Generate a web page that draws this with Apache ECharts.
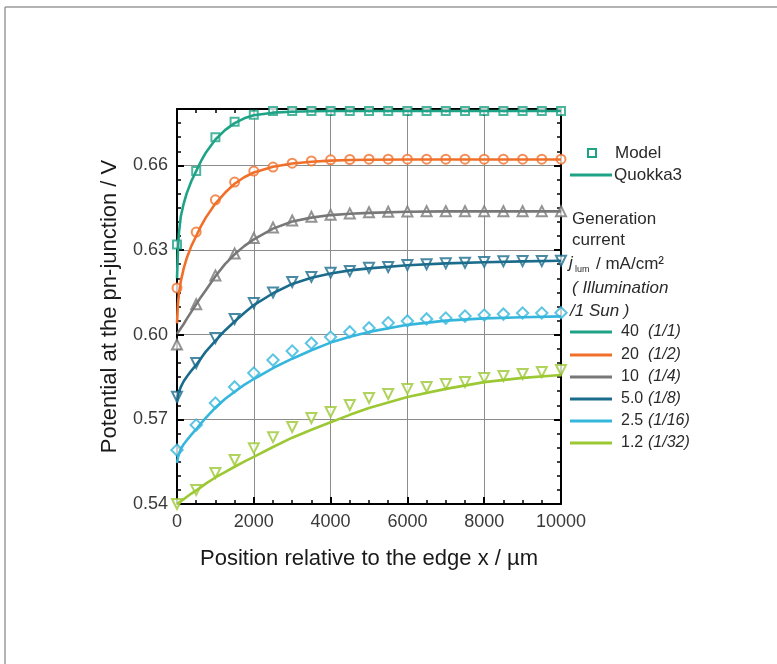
<!DOCTYPE html>
<html>
<head>
<meta charset="utf-8">
<script src="https://cdn.jsdelivr.net/npm/echarts@6/dist/echarts.min.js"></script>
<style>html,body{margin:0;padding:0;background:#fff;}#c{width:777px;height:664px;}</style>
</head>
<body>
<div id="c"></div>
<script>
// ---------- data ----------
const xModel = [0,500,1000,1500,2000,2500,3000,3500,4000,4500,5000,5500,6000,6500,7000,7500,8000,8500,9000,9500,10000];
const model40 = [0.632,0.658,0.670,0.6755,0.678,0.6793,0.6793,0.6793,0.6793,0.6793,0.6793,0.6793,0.6793,0.6793,0.6793,0.6793,0.6793,0.6793,0.6793,0.6793,0.6793];
const model20 = [0.6166,0.6364,0.6478,0.6541,0.658,0.6594,0.6608,0.6616,0.662,0.6621,0.6622,0.6622,0.6622,0.6622,0.6622,0.6622,0.6622,0.6622,0.6622,0.6622,0.6622];
const model10 = [0.5965,0.6108,0.621,0.6288,0.6343,0.638,0.6405,0.6418,0.6425,0.643,0.6434,0.6436,0.6437,0.6438,0.6438,0.6438,0.6438,0.6438,0.6438,0.6438,0.6438];
const model5 = [0.578,0.590,0.5988,0.6056,0.6112,0.615,0.6187,0.6205,0.622,0.6226,0.6237,0.624,0.6247,0.625,0.6253,0.6255,0.6258,0.626,0.6261,0.6261,0.6262];
const model2_5 = [0.5591,0.568,0.5758,0.5815,0.5864,0.591,0.5942,0.597,0.5992,0.601,0.6024,0.6042,0.6049,0.6056,0.6059,0.6066,0.607,0.6073,0.6077,0.6077,0.6078];
const model1_2 = [0.540,0.545,0.551,0.5556,0.5598,0.5637,0.5673,0.5705,0.5726,0.5751,0.5776,0.579,0.5808,0.5815,0.5825,0.5832,0.5847,0.5854,0.5861,0.5868,0.5875];

const xLine = [0,25,50,100,175,250,375,500,625,750,1000,1250,1500,1750,2000,2500,3000,3500,4000,4500,5000,6000,7000,8000,9000,10000];
const line40 = [0.620,0.630,0.636,0.642,0.6465,0.650,0.6545,0.658,0.6615,0.6645,0.6692,0.6725,0.675,0.6767,0.6778,0.6787,0.679,0.6792,0.6793,0.6793,0.6793,0.6793,0.6793,0.6793,0.6793,0.6793];
const line20 = [0.604,0.611,0.6145,0.619,0.6235,0.627,0.6315,0.635,0.6385,0.6415,0.6465,0.6503,0.6535,0.6558,0.6575,0.6595,0.6607,0.6613,0.6617,0.6619,0.662,0.6621,0.6621,0.6621,0.6621,0.6621];
const line10 = [0.6003,0.6008,0.6013,0.6023,0.6038,0.6055,0.6082,0.6108,0.6134,0.6158,0.6207,0.625,0.6285,0.6314,0.6338,0.6376,0.6401,0.6415,0.6424,0.6429,0.6432,0.6436,0.6437,0.6437,0.6437,0.6437];
const line5 = [0.576,0.5785,0.5798,0.5815,0.5835,0.585,0.5873,0.5893,0.5917,0.594,0.5978,0.6015,0.6047,0.6077,0.6105,0.6147,0.618,0.6202,0.6217,0.6228,0.6235,0.6246,0.6253,0.6257,0.626,0.6262];
const line2_5 = [0.5545,0.5565,0.5577,0.5595,0.5612,0.5625,0.5646,0.5665,0.5686,0.5705,0.5742,0.5772,0.5798,0.5822,0.5843,0.5882,0.5915,0.5945,0.5972,0.5993,0.601,0.6035,0.605,0.6058,0.6062,0.6065];
const line1_2 = [0.540,0.5402,0.5405,0.541,0.5417,0.5425,0.5437,0.5448,0.546,0.5472,0.5494,0.5513,0.5532,0.555,0.5567,0.5602,0.5635,0.5663,0.569,0.5716,0.574,0.5779,0.5808,0.5832,0.5847,0.5857];

const currents = ['40','20','10','5.0','2.5','1.2'];
const ratios = ['(1/1)','(1/2)','(1/4)','(1/8)','(1/16)','(1/32)'];
const colors = ['#1fa386','#f0702a','#787878','#1b6c8c','#35b6dc','#9cc834'];
const yTicks = [0.54,0.57,0.60,0.63,0.66];
const xTicks = [0,2000,4000,6000,8000,10000];
const legendHeader = ['Model','Quokka3'];
const legendText = ['Generation','current','( Illumination','/1 Sun )'];
const xName = 'Position relative to the edge x / µm';
const yName = 'Potential at the pn-junction / V';

// ---------- build ----------
const modelSets = [model40,model20,model10,model5,model2_5,model1_2];
const lineSets = [line40,line20,line10,line5,line2_5,line1_2];
const symbols = ['emptyRect','emptyCircle','emptyTriangle','emptyTriangle','emptyRect','emptyTriangle'];
const symRot = [0,0,0,180,45,180];
const symSize = [8,9,10,10,8,10];
const FONT = 'Liberation Sans, Arial, sans-serif';

const series = [];
modelSets.forEach((m,i)=>{
  series.push({
    type:'scatter', xAxisIndex:0, yAxisIndex:0,
    data: xModel.map((x,k)=>[x,m[k]]),
    symbol: symbols[i], symbolRotate: symRot[i], symbolSize: symSize[i],
    itemStyle:{color:colors[i], borderColor:colors[i], borderWidth:1.6},
    z:3, clip:true, silent:true
  });
});
lineSets.forEach((l,i)=>{
  series.push({
    type:'line', xAxisIndex:0, yAxisIndex:0,
    data: xLine.map((x,k)=>[x,l[k]]),
    showSymbol:false, smooth:false,
    lineStyle:{color:colors[i], width:2.6, join:'round'},
    z:4, clip:true, silent:true
  });
});

function isMajorY(v){ return yTicks.some(t=>Math.abs(t-v)<1e-6); }

const gridBase = {left:177, top:109, width:384, height:395};
const xMinor = {min:0,max:10000,interval:500};
const yMinor = {min:0.54,max:0.68,interval:0.005};

const xAxes = [
  {type:'value', position:'bottom', min:0, max:10000, interval:2000,
   axisLine:{show:true, onZero:false, lineStyle:{color:'#000', width:2}},
   axisTick:{show:true, inside:true, length:7, lineStyle:{color:'#000', width:2}},
   axisLabel:{show:true, color:'#3a3a3a', fontSize:18, fontFamily:FONT, margin:9,
     formatter:v=> xTicks.includes(v) ? String(v) : ''},
   splitLine:{show:true, lineStyle:{color:'#8c8c8c', width:1}},
   name:xName, nameLocation:'middle', nameGap:44,
   nameTextStyle:{color:'#1a1a1a', fontSize:22, fontFamily:FONT}},
  Object.assign({type:'value', position:'bottom', axisLine:{show:false, onZero:false},
   axisTick:{show:true, inside:true, length:4, lineStyle:{color:'#000', width:1.5}},
   axisLabel:{show:false}, splitLine:{show:false}}, xMinor),
  {type:'value', position:'top', min:0, max:10000, interval:2000,
   axisLine:{show:true, onZero:false, lineStyle:{color:'#000', width:2}},
   axisTick:{show:true, inside:true, length:7, lineStyle:{color:'#000', width:2}},
   axisLabel:{show:false}, splitLine:{show:false}},
  Object.assign({type:'value', position:'top', axisLine:{show:false, onZero:false},
   axisTick:{show:true, inside:true, length:4, lineStyle:{color:'#000', width:1.5}},
   axisLabel:{show:false}, splitLine:{show:false}}, xMinor)
];
const yAxes = [
  {type:'value', position:'left', min:0.54, max:0.68, interval:0.03,
   axisLine:{show:true, onZero:false, lineStyle:{color:'#000', width:2}},
   axisTick:{show:true, inside:true, length:7, lineStyle:{color:'#000', width:2}},
   axisLabel:{show:true, color:'#3a3a3a', fontSize:18, fontFamily:FONT, margin:9,
     formatter:v=> isMajorY(v) ? v.toFixed(2) : ''},
   splitLine:{show:true, lineStyle:{color:'#8c8c8c', width:1}},
   name:yName, nameLocation:'middle', nameGap:56,
   nameTextStyle:{color:'#1a1a1a', fontSize:22, fontFamily:FONT}},
  Object.assign({type:'value', position:'left', axisLine:{show:false, onZero:false},
   axisTick:{show:true, inside:true, length:4, lineStyle:{color:'#000', width:1.5}},
   axisLabel:{show:false}, splitLine:{show:false}}, yMinor),
  {type:'value', position:'right', min:0.54, max:0.68, interval:0.03,
   axisLine:{show:true, onZero:false, lineStyle:{color:'#000', width:2}},
   axisTick:{show:true, inside:true, length:7, lineStyle:{color:'#000', width:2}},
   axisLabel:{show:false}, splitLine:{show:false}},
  Object.assign({type:'value', position:'right', axisLine:{show:false, onZero:false},
   axisTick:{show:true, inside:true, length:4, lineStyle:{color:'#000', width:1.5}},
   axisLabel:{show:false}, splitLine:{show:false}}, yMinor)
];

// legend graphics
const g = [];
g.push({type:'line', shape:{x1:5,y1:7,x2:777,y2:7}, style:{stroke:'#9a9a9a', lineWidth:1.5}});
g.push({type:'line', shape:{x1:5,y1:7,x2:5,y2:664}, style:{stroke:'#9a9a9a', lineWidth:1.5}});
const tStyle = (txt,x,y,extra)=>Object.assign({type:'text', x:x, y:y,
  style:Object.assign({text:txt, fill:'#2a2a2a', font:'17px '+FONT, textVerticalAlign:'middle'}, extra||{})});
g.push({type:'rect', shape:{x:588,y:149,width:8,height:8}, style:{fill:'none', stroke:colors[0], lineWidth:2}});
g.push(tStyle(legendHeader[0],615,153));
g.push({type:'line', shape:{x1:570,y1:175,x2:612,y2:175}, style:{stroke:colors[0], lineWidth:3}});
g.push(tStyle(legendHeader[1],614,175));
g.push(tStyle(legendText[0],572,219));
g.push(tStyle(legendText[1],572,240));
g.push(tStyle('j',569,263,{font:'italic 17px '+FONT}));
g.push(tStyle('lum',575,270,{font:'9px '+FONT}));
g.push(tStyle('/ mA/cm²',596,264));
g.push(tStyle(legendText[2],572,288,{font:'italic 17px '+FONT}));
g.push(tStyle(legendText[3],570,311,{font:'italic 17px '+FONT}));
const entryY = [332,355,377,399,421,443];
currents.forEach((c,i)=>{
  g.push({type:'line', shape:{x1:570,y1:entryY[i],x2:612,y2:entryY[i]}, style:{stroke:colors[i], lineWidth:3}});
  g.push(tStyle(c,621,entryY[i],{font:'16px '+FONT}));
  g.push(tStyle(ratios[i],648,entryY[i],{font:'italic 16px '+FONT}));
});

const chart = echarts.init(document.getElementById('c'), null, {renderer:'canvas'});
chart.setOption({
  backgroundColor:'#ffffff',
  animation:false,
  grid:gridBase,
  xAxis:xAxes,
  yAxis:yAxes,
  series:series,
  graphic:g
});
</script>
</body>
</html>
